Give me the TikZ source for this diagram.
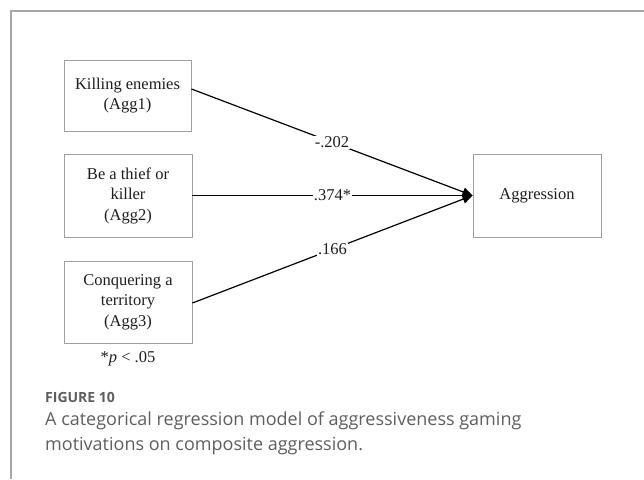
\documentclass[tikz,border=0pt]{standalone}
\usepackage{fontspec}
\setmainfont{Liberation Serif}
\newfontfamily\capfont{Open Sans}
\usetikzlibrary{arrows.meta,calc}
\definecolor{framegray}{HTML}{A8A8A8}
\definecolor{boxgray}{HTML}{A0A0A0}
\definecolor{captiongray}{HTML}{5E5E5E}
\definecolor{inkdark}{HTML}{1E1E1E}
\begin{document}
\begin{tikzpicture}[x=1pt,y=-1pt,
  varbox/.style={draw=boxgray,line width=0.9pt,fill=white,align=center,text=inkdark,
    font=\fontsize{16.5}{20.5}\selectfont,inner sep=0pt},
  path/.style={draw=black,line width=1.2pt,-{Triangle[length=10pt,width=9pt]}},
  coef/.style={fill=white,inner sep=1pt,text=inkdark,font=\fontsize{16.5}{20.5}\selectfont},
  figlabel/.style={anchor=base west,inner sep=0pt,text=captiongray},
]
\useasboundingbox (0,0) rectangle (644,479);

% page frame
\draw[framegray,line width=1.6pt] (644,11) -- (11,11) -- (11,479);

% predictor boxes
\node[varbox,minimum width=127pt,minimum height=71pt] (b1) at (127.5,95.5)
  {Killing enemies\\(Agg1)};
\node[varbox,minimum width=128pt,minimum height=83pt] (b2) at (128,195.5)
  {Be a thief or\\killer\\(Agg2)};
\node[varbox,minimum width=128pt,minimum height=82pt] (b3) at (128,302)
  {Conquering a\\territory\\(Agg3)};

% outcome box
\node[varbox,minimum width=128pt,minimum height=83pt] (agg) at (537,195.5) {Aggression};

% regression paths
\coordinate (s1) at ([yshift=6.5pt]b1.east);
\coordinate (s3) at ([yshift=-1pt]b3.east);
\path[path] (s1) -- node[coef] {-.202} (agg.west);
\path[path] (b2.east) -- node[coef] {.374*} (agg.west);
\path[path] (s3) -- node[coef] {.166} (agg.west);

% significance note
\node[anchor=base,inner sep=0pt,text=inkdark,font=\fontsize{16.5}{20.5}\selectfont]
  (note) at (128,362) {*\textit{p} < .05};

% caption
\node[figlabel,font=\capfont\bfseries\fontsize{14}{16}\selectfont] (fig) at (45,402) {FIGURE 10};
\node[figlabel,font=\capfont\fontsize{18}{25}\selectfont,align=left] (cap) at (45,450)
  {A categorical regression model of aggressiveness gaming\\motivations on composite aggression.};
\end{tikzpicture}
\end{document}
